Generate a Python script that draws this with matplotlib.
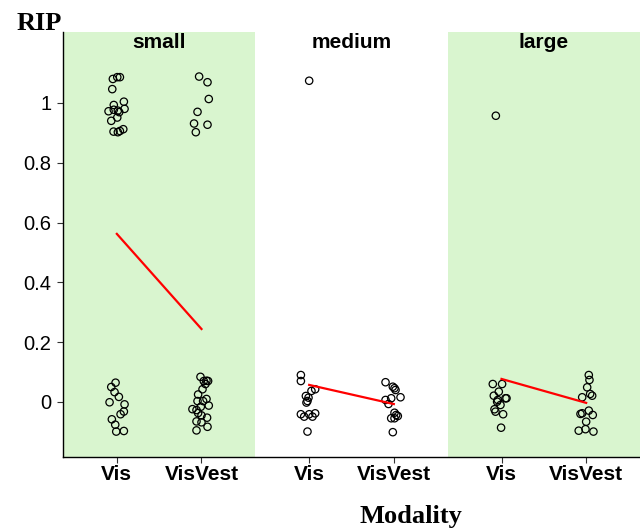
import matplotlib
matplotlib.use("Agg")
import matplotlib.pyplot as plt
import numpy as np

panels = ["small", "medium", "large"]
modalities = ["Vis", "VisVest"]
yticks = [0, 0.2, 0.4, 0.6, 0.8, 1]
ytick_labels = ["0", "0.2", "0.4", "0.6", "0.8", "1"]

small_vis = [1.080, 1.086, 1.086, 1.046, 0.993, 1.004, 0.972, 0.977, 0.974, 0.969, 0.980,
             0.951, 0.940, 0.904, 0.902, 0.906, 0.912,
             0.0645, 0.050, 0.033, 0.017, -0.001, -0.008, -0.032, -0.041, -0.058, -0.076, -0.099, -0.097]
small_vis_jit = [-0.047, 0.005, 0.036, -0.054, -0.036, 0.083, -0.098, -0.036, 0.012, 0.028, 0.091,
                 0.005, -0.066, -0.039, 0.012, 0.036, 0.076,
                 -0.015, -0.066, -0.027, 0.024, -0.086, 0.091, 0.083, 0.044, -0.059, -0.019, -0.007, 0.083]

small_visvest = [1.088, 1.069, 1.013, 0.970, 0.931, 0.927, 0.902,
                 0.084, 0.070, 0.071, 0.070, 0.060, 0.0425, 0.025, 0.010, 0.003, 0.003, -0.012,
                 -0.016, -0.024, -0.027, -0.037, -0.045, -0.0525, -0.065, -0.068, -0.083, -0.095]
small_visvest_jit = [-0.028, 0.071, 0.086, -0.047, -0.088, 0.071, -0.067,
                     -0.012, 0.027, 0.059, 0.078, 0.047, 0.012, -0.040, 0.059, -0.047, 0.019, 0.086,
                     -0.008, -0.107, -0.059, -0.040, 0.0, 0.066, -0.059, 0.0, 0.071, -0.059]

medium_vis = [1.074, 0.090, 0.070, 0.0425, 0.037, 0.020, 0.0144, 0.0033, -0.002,
              -0.041, -0.049, -0.041, -0.049, -0.038, -0.099]
medium_vis_jit = [0.0, -0.098, -0.098, 0.071, 0.027, -0.039, -0.008, -0.020, -0.032,
                  -0.098, -0.059, 0.0, 0.039, 0.071, -0.020]

medium_visvest = [0.066, 0.051, 0.046, 0.040, 0.0157, 0.0067, 0.0124, -0.0067, -0.036,
                  -0.0435, -0.047, -0.0545, -0.0545, -0.101]
medium_visvest_jit = [-0.098, -0.012, 0.008, 0.020, 0.079, -0.098, -0.031, -0.063, 0.008,
                      0.028, 0.047, -0.031, 0.008, -0.012]

large_vis = [0.957, 0.060, 0.060, 0.0344, 0.021, 0.0067, 0.001, 0.0124, 0.0124,
             -0.010, -0.0244, -0.0324, -0.041, -0.086]
large_vis_jit = [-0.067, -0.103, 0.007, -0.032, -0.091, -0.044, -0.052, 0.047, 0.059,
                 -0.012, -0.083, -0.071, 0.019, -0.005]

large_visvest = [0.090, 0.0736, 0.049, 0.0268, 0.021, 0.0157, -0.029, -0.040, -0.0378,
                 -0.0435, -0.066, -0.096, -0.091, -0.099]
large_visvest_jit = [0.031, 0.039, 0.012, 0.047, 0.071, -0.047, 0.031, -0.067, -0.047,
                     0.078, 0.0, -0.088, -0.008, 0.086]

mean_vis = [0.562, 0.057, 0.077]
mean_visvest = [0.244, -0.007, -0.003]

data = {
    "small": [(small_vis, small_vis_jit), (small_visvest, small_visvest_jit)],
    "medium": [(medium_vis, medium_vis_jit), (medium_visvest, medium_visvest_jit)],
    "large": [(large_vis, large_vis_jit), (large_visvest, large_visvest_jit)],
}

GREEN = "#d9f5cf"
expand = 0.636
pw = 1 + 2 * expand  # panel width in category units

fig = plt.figure(figsize=(6.4, 5.3), dpi=100)
ax = fig.add_axes([63 / 640, 1 - 457 / 530, 577 / 640, 425 / 530])
ax.set_xlim(-expand, 3 * pw - expand)
ax.set_ylim(-0.184, 1.237)

xt, xl = [], []
for i, p in enumerate(panels):
    left = i * pw - expand
    if i != 1:
        ax.axvspan(left, left + pw, color=GREEN, lw=0, zorder=0)
    for j, m in enumerate(modalities):
        vals, jit = data[p][j]
        xc = i * pw + j
        ax.scatter(xc + np.array(jit), vals, s=28, facecolors="none",
                   edgecolors="black", linewidths=0.9, zorder=3)
        xt.append(xc)
        xl.append(m)
    ax.plot([i * pw, i * pw + 1], [mean_vis[i], mean_visvest[i]], color="red", lw=1.6, zorder=4)
    ax.text(i * pw + 0.5, 0.997, p, transform=ax.get_xaxis_transform(), ha="center", va="top",
            fontsize=15, fontweight="bold", family="Liberation Sans")

ax.set_xticks(xt)
ax.set_xticklabels(xl, fontsize=15, fontweight="bold", family="Liberation Sans")
ax.set_yticks(yticks)
ax.set_yticklabels(ytick_labels, fontsize=14.5, family="Liberation Sans")
ax.tick_params(axis="both", direction="out", length=4.5, width=0.8, color="#333333")
ax.tick_params(axis="x", pad=1)
ax.tick_params(axis="y", pad=4)
for s in ["top", "right"]:
    ax.spines[s].set_visible(False)
for s in ["left", "bottom"]:
    ax.spines[s].set_linewidth(1.0)

fig.text(17 / 640, 1 - 30 / 530, "RIP", fontsize=19, fontweight="bold", family="Liberation Serif",
         ha="left", va="baseline")
fig.text(411 / 640, 1 - 517 / 530, "Modality", fontsize=19, fontweight="bold", family="Liberation Serif",
         ha="center", va="center")

fig.savefig("out.png", dpi=100)
